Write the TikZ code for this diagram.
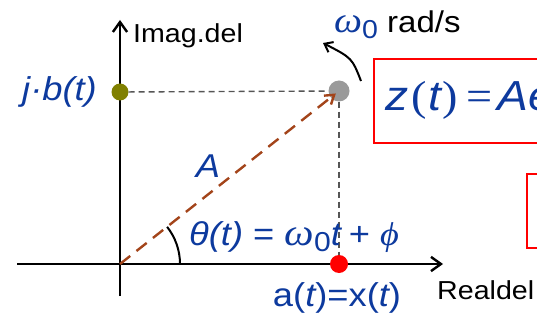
\documentclass[tikz,border=0pt]{standalone}
\usepackage{fontspec}
\setmainfont{Liberation Sans}[FakeStretch=1.1]
\newfontfamily\greekfont{Liberation Serif}[FakeStretch=1.1]
\usetikzlibrary{arrows.meta,positioning,calc}
\definecolor{phasorblue}{HTML}{0D3A9E}
\definecolor{vecbrown}{HTML}{A3441A}
\definecolor{dotolive}{HTML}{808000}
\definecolor{dotgray}{HTML}{9A9A9A}
\definecolor{guidegray}{HTML}{555555}
\newcommand{\wnull}{{\greekfont\itshape ω}\raisebox{-0.3ex}{\scalebox{0.72}{0}}}

\begin{document}
\begin{tikzpicture}[
    x=1pt, y=-1pt,
    axis/.style={-{Straight Barb[length=3.5mm,width=5mm]}, line width=2.4pt, black},
    guide/.style={guidegray, line width=1.4pt, dash pattern=on 6pt off 4pt},
    phasor/.style={-{Straight Barb[length=3mm,width=4mm]}, vecbrown, line width=2.4pt,
                   dash pattern=on 13pt off 8pt},
    dot/.style={circle, inner sep=0pt, minimum size=#1},
    blk/.style={font=\fontsize{26}{30}\selectfont, text=black, inner sep=1pt},
    blu/.style={font=\fontsize{33}{38}\selectfont, text=phasorblue, inner sep=1pt},
    eqbox/.style={draw=red, line width=2pt},
]
    \useasboundingbox (0,0) rectangle (537,320);
    \clip (0,0) rectangle (537,320);

    % ============================================================
    %  AXES
    % ============================================================
    \coordinate (O) at (120,264);
    \draw[axis] (17,264) -- (443,264);
    \draw[axis] (120,296) -- (120,20);
    \node[blk, anchor=west] (imlab) at (132,36) {Imag.del};
    \node[blk, anchor=west] (relab) at (436,290) {Realdel};

    % ============================================================
    %  POINTS AND PROJECTIONS
    % ============================================================
    \node[dot=17pt, fill=dotolive] (b) at (120,92) {};
    \node[dot=21pt, fill=dotgray] (z) at (339,91) {};
    \node[dot=18pt, fill=red] (a) at (339,264) {};
    \draw[guide] (b) -- (z);
    \draw[guide] (z) -- (a);

    % the phasor itself
    \draw[phasor] (O) -- ($(z.center)!4pt!(O)$);
    \draw[line width=2pt] ($(O)+(60,0)$) arc[start angle=0, end angle=-38.3, radius=60];

    % rotation direction
    \coordinate (rotA) at (361,81);
    \coordinate (rotB) at (323,43);
    \draw[-{Straight Barb[length=2.6mm,width=4mm]}, line width=2pt]
        (rotA) .. controls (352,58) .. (rotB);

    % ============================================================
    %  LABELS
    % ============================================================
    \node[blu, anchor=east] (blab) at (98,92) {\itshape j·b(t)};
    \node[blu] (Alab) at (208,166) {\itshape A};
    \node[blu, anchor=west] (thlab) at (188,237)
        {{\itshape θ(t)} = {\fontsize{38}{40}\selectfont\wnull}{\itshape t}\hspace{8pt}+\hspace{10pt}{\greekfont\itshape ϕ}};
    \node[blu] (alab) at (337,298) {a({\itshape t})=x({\itshape t})};
    \node[blk, font=\fontsize{30}{34}\selectfont, anchor=west] (wlab) at (333,25)
        {\textcolor{phasorblue}{\fontsize{36}{38}\selectfont\wnull} rad/s};

    % ============================================================
    %  FORMULA BOXES (cut off at the right edge)
    % ============================================================
    \node[eqbox, anchor=north west, minimum height=84pt, minimum width=200pt] (eq1)
        at (373,58) {};
    \node[blu, font=\fontsize{42}{46}\selectfont, anchor=west] (eqtxt) at (384,100)
        {{\itshape z}\hspace{3pt}{\greekfont(}\hspace{2pt}{\itshape t}\hspace{1pt}{\greekfont)}\hspace{9pt}{\greekfont=}\hspace{5pt}{\itshape Ae}};
    \node[eqbox, anchor=north west, minimum height=74pt, minimum width=60pt] (eq2)
        at (526,173) {};
\end{tikzpicture}
\end{document}
